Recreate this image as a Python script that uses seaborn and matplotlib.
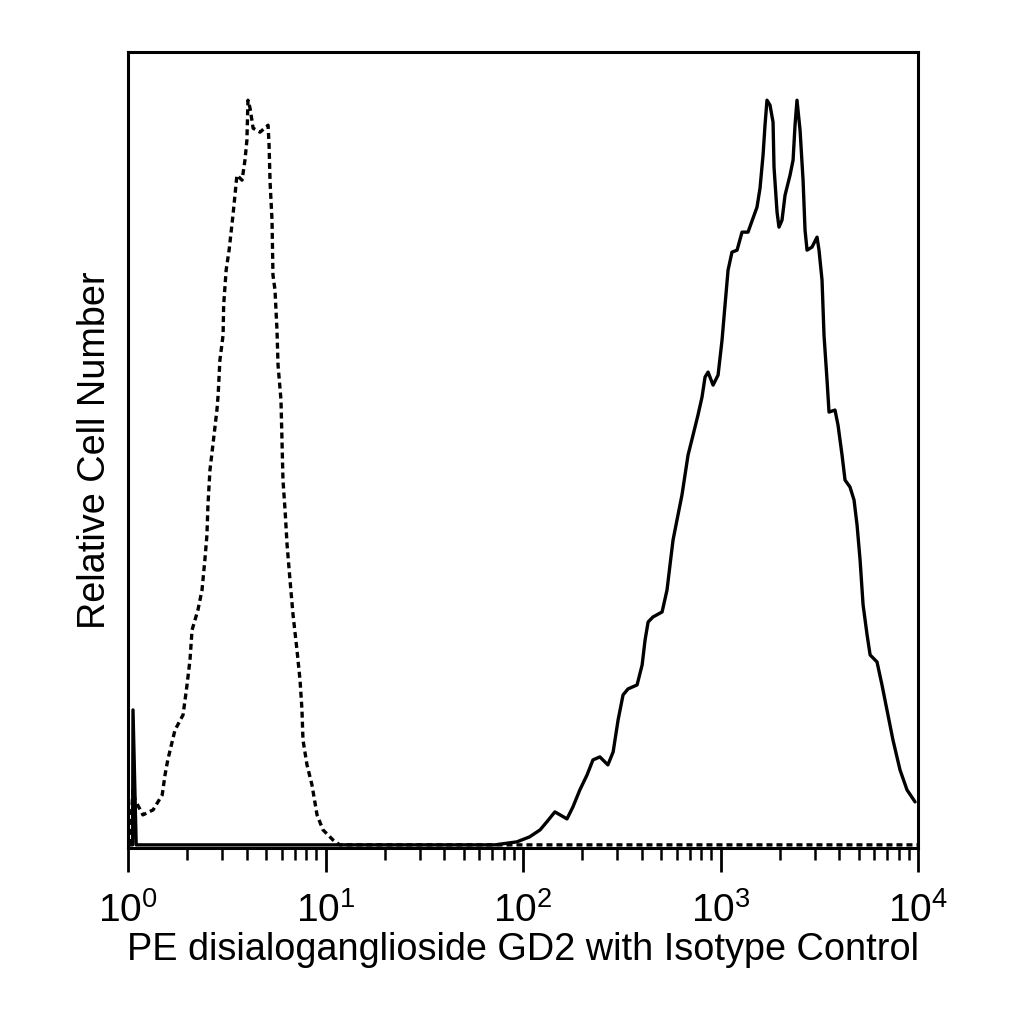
#!/usr/bin/env python3
# flow cytometry overlay: PE disialoganglioside GD2 vs isotype control

import matplotlib
matplotlib.use('Agg')
import matplotlib.pyplot as plt
import pandas as pd
import seaborn as sns

# Data =========================================================================

isotype_fl = [
    1.02, 1.06, 1.085, 1.19, 1.34, 1.49, 1.54, 1.59, 1.73, 1.90, 1.99, 2.06,
    2.11, 2.26, 2.37, 2.45, 2.51, 2.54, 2.60, 2.69, 2.82, 2.86, 2.92, 3.03,
    3.05, 3.14, 3.25, 3.40, 3.48, 3.56, 3.78, 3.91, 4.00, 4.05, 4.15, 4.30,
    4.66, 5.12, 5.18, 5.24, 5.36, 5.42, 5.55, 5.68, 5.75, 5.95, 6.02, 6.09,
    6.24, 6.39, 6.61, 6.85, 7.17, 7.43, 7.60, 7.69, 8.06, 8.54, 9.06, 9.71,
    10.9, 11.8, 10000,
]
isotype_count = [
    0, 55, 45, 30, 35, 50, 70, 85, 115, 130, 160, 185,
    215, 235, 255, 285, 310, 340, 375, 400, 435, 450, 485, 510,
    540, 575, 595, 630, 650, 670, 665, 685, 705, 745, 737, 717,
    713, 720, 700, 663, 625, 570, 555, 515, 480, 445, 405, 365,
    335, 300, 265, 230, 195, 165, 135, 105, 80, 60, 30, 15,
    5, 0, 0,
]

gd2_fl = [
    1.0, 1.055, 1.06, 1.10, 60, 72, 93, 108, 122, 132, 145, 167, 179, 194,
    211, 226, 245, 269, 286, 303, 321, 340, 378, 401, 415, 430, 455, 506,
    536, 555, 575, 602, 638, 661, 685, 726, 769, 806, 835, 865, 917, 972,
    1018, 1054, 1092, 1143, 1213, 1285, 1378, 1461, 1530, 1585, 1642, 1680,
    1719, 1781, 1845, 1866, 1933, 1977, 2048, 2122, 2249, 2330, 2384, 2439,
    2528, 2618, 2679, 2742, 2905, 3081, 3153, 3266, 3342, 3462, 3543, 3799,
    3935, 4124, 4270, 4525, 4743, 4913, 5089, 5271, 5523, 5721, 6200, 6570,
    6963, 7466, 8107, 8795, 9660,
]
gd2_count = [
    0, 0, 135, 0, 0, 0, 3, 8, 15, 23, 33, 26, 38, 55,
    70, 85, 88, 80, 93, 125, 150, 156, 160, 180, 205, 223, 228, 233,
    255, 280, 305, 325, 350, 370, 390, 410, 430, 448, 468, 473, 460, 470,
    505, 540, 575, 593, 595, 613, 613, 627, 638, 657, 690, 720,
    745, 740, 723, 678, 633, 618, 625, 650, 670, 685, 720, 745,
    715, 665, 615, 595, 598, 608, 595, 565, 510, 465, 433, 435,
    420, 390, 365, 358, 345, 320, 285, 240, 210, 190, 183, 160,
    135, 105, 75, 55, 43,
]

x_label = 'PE disialoganglioside GD2 with Isotype Control'
y_label = 'Relative Cell Number'

# Plot =========================================================================

def main():
    sns.set_style('white')
    plt.rcParams['font.family'] = ['Liberation Sans', 'DejaVu Sans']
    plt.rcParams['mathtext.fontset'] = 'custom'
    plt.rcParams['mathtext.rm'] = 'Liberation Sans'
    plt.rcParams['mathtext.it'] = 'Liberation Sans'
    plt.rcParams['text.color'] = 'black'
    plt.rcParams['axes.labelcolor'] = 'black'
    plt.rcParams['xtick.color'] = 'black'

    isotype = pd.DataFrame({'fl': isotype_fl, 'count': isotype_count})
    gd2 = pd.DataFrame({'fl': gd2_fl, 'count': gd2_count})

    fig = plt.figure(figsize=(10.24, 10.24), dpi=100)
    ax = fig.add_axes([0.125, 0.172, 0.7715, 0.777])

    sns.lineplot(data=isotype, x='fl', y='count', ax=ax, color='black',
                 estimator=None, sort=False, linewidth=2.4,
                 linestyle=(0, (1.8, 1.2)))
    sns.lineplot(data=gd2, x='fl', y='count', ax=ax, color='black',
                 estimator=None, sort=False, linewidth=2.4)

    ax.set_xscale('log')
    ax.set_xlim(1, 10000)
    ax.set_ylim(-3, 793)
    ax.set_yticks([])
    ax.tick_params(axis='x', which='major', direction='out', length=17,
                   width=2, colors='black', labelsize=28, pad=15,
                   bottom=True)
    ax.tick_params(axis='x', which='minor', direction='out', length=8.5,
                   width=1.8, colors='black', bottom=True)
    for spine in ax.spines.values():
        spine.set_visible(True)
        spine.set_color('black')
        spine.set_linewidth(2.2)

    ax.set_xlabel(x_label, fontsize=27.3, labelpad=1)
    ax.set_ylabel(y_label, fontsize=27.3, labelpad=11)

    fig.savefig('out.png', dpi=100)


if __name__ == '__main__':
    main()
